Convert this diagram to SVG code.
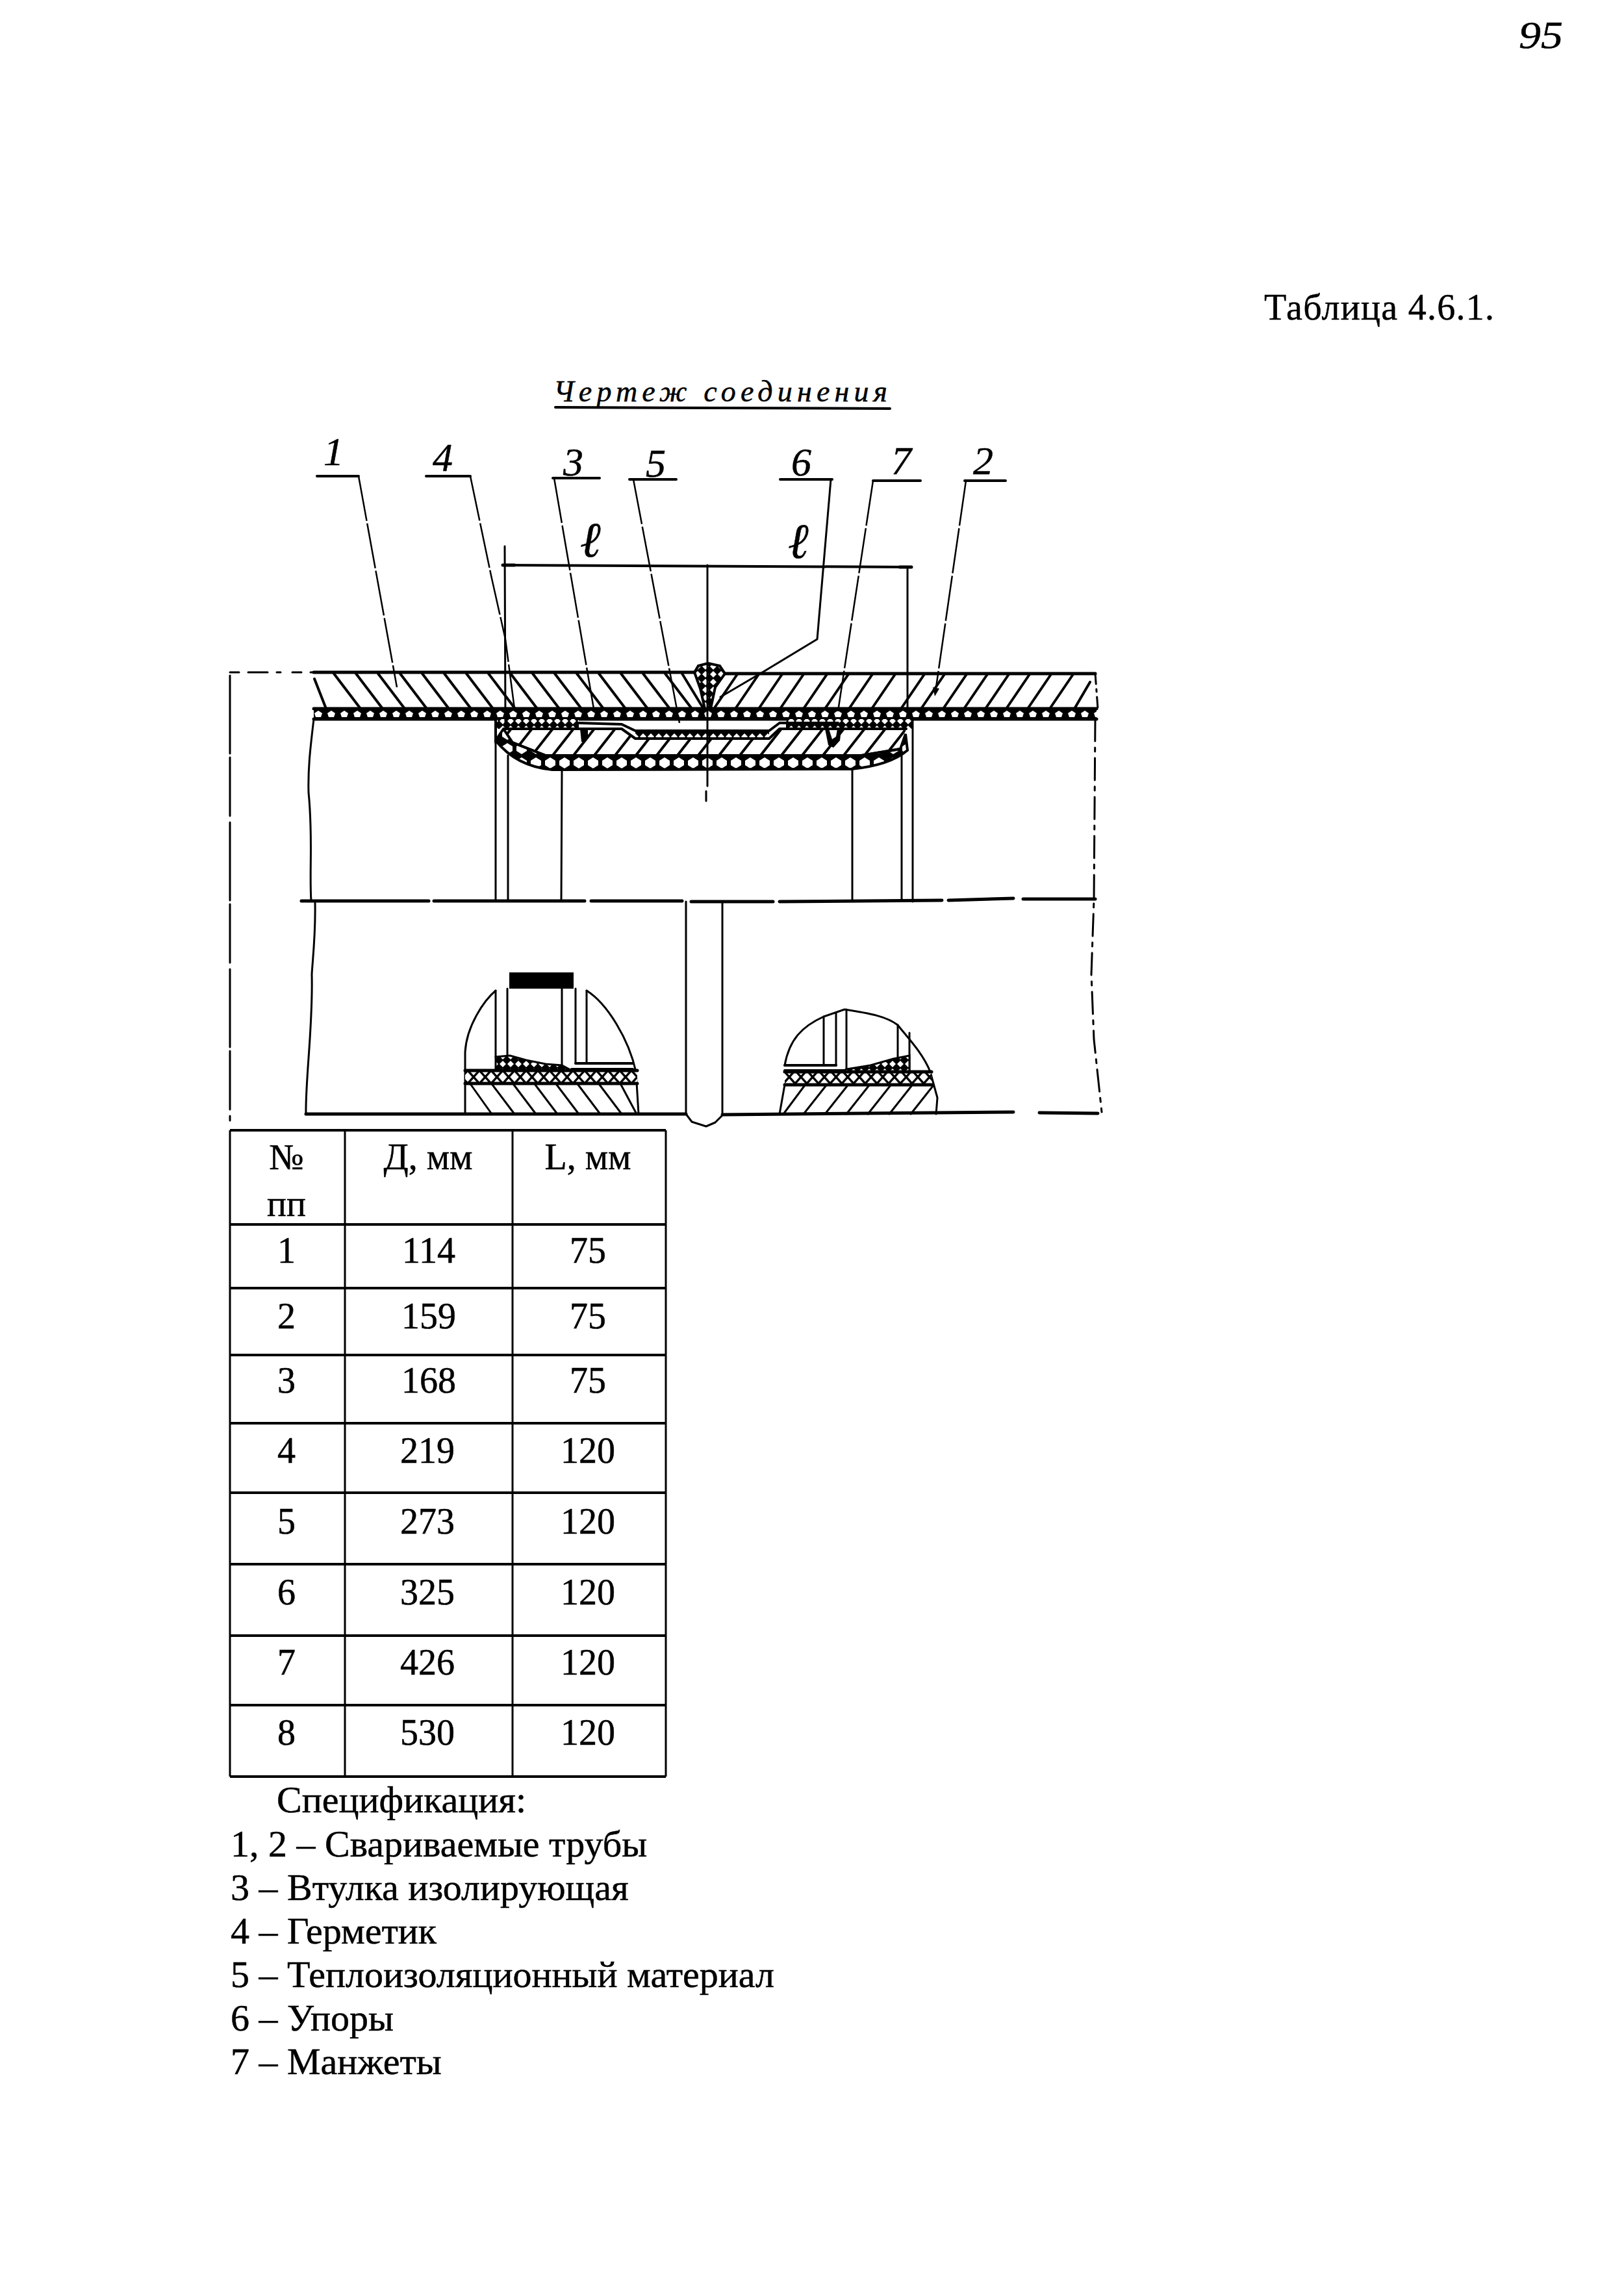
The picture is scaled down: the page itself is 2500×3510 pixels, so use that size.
<svg xmlns="http://www.w3.org/2000/svg" width="2500" height="3510" viewBox="0 0 2500 3510">
<style>
text{fill:#000;font-family:"Liberation Serif","Noto Sans CJK SC",serif;stroke:#000;stroke-width:.5}
.t{font-size:56px}
.s{font-size:58px}
.m{text-anchor:middle}
.hw{font-style:italic;font-family:"Liberation Serif",serif}
.n{font-size:62px}
.e{font-size:76px}
.l{fill:none;stroke:#000;stroke-width:3;stroke-linecap:round;stroke-linejoin:round}
.th{stroke-width:5}
.md{stroke-width:4}
.tb{fill:none;stroke:#000;stroke-width:4}
.tv{fill:none;stroke:#000;stroke-width:3}
.ld{fill:none;stroke:#000;stroke-width:2.5;stroke-dasharray:70 4}
</style>
<defs>
<pattern id="ins" patternUnits="userSpaceOnUse" width="20" height="16" patternTransform="translate(0,3)">
<rect width="20" height="16" fill="#000"/>
<path d="M10,3 L16,7 L14,13 L6,13 L4,7 Z" fill="#fff"/>
</pattern>
<pattern id="ins2" patternUnits="userSpaceOnUse" width="22" height="22" patternTransform="translate(0,19)">
<rect width="22" height="22" fill="#000"/>
<path d="M11,3 L19,8 L19,15 L11,20 L3,15 L3,8 Z" fill="#fff"/>
</pattern>
<pattern id="xx" patternUnits="userSpaceOnUse" width="18" height="20" patternTransform="translate(0,8)">
<rect width="18" height="20" fill="#fff"/>
<path d="M0,0 L18,20 M18,0 L0,20" stroke="#000" stroke-width="3.5"/>
</pattern>
<pattern id="wd" patternUnits="userSpaceOnUse" width="12" height="12">
<rect width="12" height="12" fill="#000"/>
<path d="M6,1 L11,6 L6,11 L1,6 Z" fill="#fff"/>
</pattern>
<clipPath id="slv"><path d="M775,1122 L957,1122 L978,1137 L1184,1137 L1200,1122 L1395,1122 L1386,1153 L1326,1163 L840,1163 L789,1143 Z"/></clipPath>
</defs>
<rect width="2500" height="3510" fill="#fff"/>

<g id="page-number"><text class="hw" x="2338" y="74" font-size="60" textLength="68" lengthAdjust="spacingAndGlyphs">95</text></g>
<g id="table-caption"><text class="t" x="1946" y="492" textLength="354" lengthAdjust="spacing">Таблица 4.6.1.</text></g>
<g id="drawing-title">
<text class="hw" x="852" y="618" font-size="46" textLength="514" lengthAdjust="spacing">Чертеж соединения</text>
<path class="l md" d="M855,627 L1370,629"/>
</g>

<g id="pipe">
<path class="l th" d="M483,1035 L1069,1035 M1115,1037 L1686,1037"/>
<path class="l" stroke-dasharray="14 14 30 14 6 18" d="M354,1035 L483,1035"/>
<path class="l md" d="M514,1037 l41,54 M548,1037 l41,54 M582,1037 l41,54 M616,1037 l41,54 M650,1037 l41,54 M684,1037 l41,54 M718,1037 l41,54 M752,1037 l41,54 M786,1037 l41,54 M820,1037 l41,54 M854,1037 l41,54 M888,1037 l41,54 M922,1037 l41,54 M956,1037 l41,54 M990,1037 l41,54 M1024,1037 l41,54 M1050,1037 l33,54 M484,1045 l18,46"/>
<path class="l md" d="M1135,1038 l-36,53 M1168,1038 l-36,53 M1204,1038 l-36,53 M1237,1038 l-36,53 M1273,1038 l-36,53 M1306,1038 l-36,53 M1343,1038 l-36,53 M1378,1038 l-36,53 M1423,1038 l-36,53 M1454,1038 l-36,53 M1488,1038 l-36,53 M1520,1038 l-36,53 M1553,1038 l-36,53 M1585,1038 l-36,53 M1618,1038 l-36,53 M1652,1038 l-36,53 M1678,1050 l-24,41"/>
<rect x="483" y="1091" width="1205" height="16" fill="url(#ins)"/>
<path class="l th" d="M483,1091 L1688,1091 M483,1107 L1688,1107"/>
<path class="l" stroke-dasharray="16 8 4 8" d="M1686,1037 L1690,1091"/>
</g>

<g id="sleeve">
<path fill="url(#ins2)" stroke="#000" stroke-width="4" d="M763,1140 Q795,1180 850,1185 L1311,1184 Q1370,1178 1397,1155 L1394,1130 L1386,1153 L1326,1163 L840,1163 L789,1143 L775,1122 Z"/>
<rect x="763" y="1107" width="128" height="15" fill="url(#wd)"/>
<rect x="1210" y="1107" width="195" height="15" fill="url(#wd)"/>
<rect x="978" y="1125" width="206" height="12" fill="url(#wd)"/>
<path class="l md" clip-path="url(#slv)" d="M790,1118 l-36,46 M822,1118 l-36,46 M854,1118 l-36,46 M886,1118 l-36,46 M918,1118 l-36,46 M950,1118 l-36,46 M982,1118 l-36,46 M1014,1118 l-36,46 M1046,1118 l-36,46 M1078,1118 l-36,46 M1110,1118 l-36,46 M1142,1118 l-36,46 M1174,1118 l-36,46 M1206,1118 l-36,46 M1238,1118 l-36,46 M1270,1118 l-36,46 M1302,1118 l-36,46 M1334,1118 l-36,46 M1366,1118 l-36,46 M1398,1118 l-36,46 M1430,1118 l-36,46"/>
<path class="l md" d="M763,1107 L763,1143 M775,1122 L957,1122 L978,1137 L1184,1137 L1200,1122 L1395,1122 M891,1113 L957,1115 L978,1125 L1184,1125 L1200,1113 L1290,1113 M789,1143 L840,1163 L1326,1163 L1386,1153"/>
<path d="M893,1122 h12 v14 l-4,6 h-6 z" fill="#000"/>
<path d="M1270,1122 h6 l5,16 l6,-4 l2,-12 h6 l-2,18 l-10,11 l-8,-4 z" fill="#000"/>
</g>

<g id="weld">
<path fill="url(#wd)" stroke="#000" stroke-width="4" d="M1069,1035 L1075,1025 L1090,1021 L1108,1025 L1116,1037 L1101,1058 L1094,1091 L1085,1091 L1078,1060 Z"/>
</g>

<g id="section-lines">
<path class="l" d="M354,1040 L354,1725" stroke-dasharray="120 6 90 10"/>
<path class="l" d="M483,1107 C478,1150 474,1180 475,1220 C482,1290 476,1340 479,1387"/>
<path class="l" d="M763,1143 L763,1385 M782,1163 L782,1385 M865,1185 L864,1385"/>
<path class="l" d="M1312,1185 L1312,1385 M1388,1160 L1388,1385 M1405,1107 L1405,1388"/>
<path class="l" stroke-dasharray="34 10 6 10" d="M1686,1107 L1684,1385 L1680,1500 L1684,1600 L1696,1712"/>
<path class="l th" d="M464,1387 L660,1387 M668,1387 L900,1387 M910,1387 L1050,1387 M1064,1388 L1190,1388 M1200,1388 L1450,1386 M1460,1386 L1560,1383 M1575,1384 L1686,1384"/>
<path class="l" d="M485,1390 C486,1440 481,1480 480,1500 C482,1580 470,1660 471,1715"/>
<path class="l" d="M1056,1388 L1056,1715 L1065,1727 L1087,1734 L1101,1728 L1112,1717 L1112,1388"/>
<path class="l th" d="M471,1715 L1056,1715 M1112,1716 L1560,1712 M1600,1713 L1690,1714"/>
</g>

<g id="cutaway-left">
<rect x="784" y="1497" width="99" height="25" fill="#000"/>
<path class="l" d="M716,1715 L716,1620 C718,1580 745,1540 763,1525 M903,1525 C935,1545 968,1600 979,1650 L983,1715"/>
<path class="l" d="M763,1525 L763,1627 M781,1522 L781,1625 M865,1522 L865,1640 M886,1522 L886,1637 M903,1525 L903,1637"/>
<path fill="url(#wd)" stroke="#000" stroke-width="3" d="M763,1627 L785,1625 L810,1632 L840,1638 L865,1640 L880,1648 L763,1648 Z"/>
<path class="l md" d="M886,1637 L974,1637 M880,1646 L974,1646"/>
<rect x="716" y="1648" width="265" height="20" fill="url(#xx)"/>
<path class="l th" d="M716,1648 L981,1648 M716,1668 L981,1668"/>
<path class="l" d="M725,1670 l32,45 M758,1670 l34,45 M791,1670 l34,45 M824,1670 l34,45 M857,1670 l34,45 M890,1670 l34,45 M923,1670 l34,45 M956,1670 l24,45"/>
</g>

<g id="cutaway-right">
<path class="l" d="M1208,1640 C1215,1600 1235,1580 1268,1565 L1300,1554 C1340,1560 1365,1565 1382,1578 C1395,1595 1420,1620 1432,1650 L1443,1690 L1441,1715 M1208,1670 L1200,1715"/>
<path class="l" d="M1268,1565 L1268,1640 M1287,1560 L1287,1640 M1303,1554 L1303,1645 M1382,1578 L1382,1628 M1400,1590 L1400,1650"/>
<path class="l md" d="M1208,1640 L1287,1640 M1208,1648 L1300,1648"/>
<path fill="url(#wd)" stroke="#000" stroke-width="3" d="M1303,1646 L1340,1640 L1375,1630 L1400,1625 L1400,1650 L1296,1650 Z"/>
<rect x="1208" y="1650" width="226" height="20" fill="url(#xx)"/>
<path class="l th" d="M1208,1650 L1434,1650 M1208,1670 L1434,1670"/>
<path class="l" d="M1238,1672 l-32,43 M1271,1672 l-34,43 M1304,1672 l-34,43 M1337,1672 l-34,43 M1370,1672 l-34,43 M1403,1672 l-34,43 M1436,1672 l-34,43"/>
</g>

<g id="connectors">
<path class="ld" d="M552,733 L611,1058"/>
<path class="ld" d="M724,733 L756,886 L778,984 L792,1091"/>
<path class="ld" d="M853,736 L914,1091"/>
<path class="ld" d="M975,738 L1046,1113"/>
<path class="l" d="M1279,738 L1258,984 L1177,1033 L1109,1073"/>
<path class="ld" d="M1344,740 L1290,1095"/>
<path class="ld" d="M1487,740 L1440,1065"/>
<path d="M1436,1058 L1446,1060 L1439,1072 Z" fill="#000"/>
<path class="l md" d="M488,733 L552,733 M656,733 L724,733 M851,736 L923,736 M969,738 L1041,738 M1201,738 L1281,738 M1344,740 L1417,740 M1485,740 L1548,740"/>
</g>

<g id="dimension">
<path class="l md" d="M774,870 L1403,873"/>
<path class="l th" d="M774,870 L792,870 M1385,873 L1403,873"/>
<path class="l" d="M777,841 L778,1113 M1397,873 L1397,1040 M1397,1040 L1397,1100"/>
<path class="l" d="M1089,870 L1089,1210 M1087,1218 L1087,1233"/>
<text class="hw e" x="893" y="857">ℓ</text>
<text class="hw e" x="1213" y="859">ℓ</text>
</g>

<g id="labels">
<text class="hw n" x="498" y="716">1</text>
<text class="hw n" x="666" y="725">4</text>
<text class="hw n" x="867" y="732">3</text>
<text class="hw n" x="994" y="734">5</text>
<text class="hw n" x="1218" y="732">6</text>
<text class="hw n" x="1372" y="730">7</text>
<text class="hw n" x="1498" y="730">2</text>
</g>

<g id="table">
<path class="tb" d="M354,1740 L1025,1740 M354,2735 L1025,2735"/>
<path class="tv" d="M354,1740 L354,2735 M531,1740 L531,2735 M789,1740 L789,2735 M1025,1740 L1025,2735"/>
<path class="tb" d="M354,1885 L1025,1885 M354,1983 L1025,1983 M354,2086 L1025,2086 M354,2191 L1025,2191 M354,2298 L1025,2298 M354,2408 L1025,2408 M354,2518 L1025,2518 M354,2625 L1025,2625"/>
<text class="t m" x="441" y="1800">№</text><text class="t m" x="441" y="1872">пп</text>
<text class="t m" x="659" y="1800">Д, мм</text><text class="t m" x="905" y="1800">L, мм</text>
<text class="t m" x="441" y="1944">1</text><text class="t m" x="660" y="1944">114</text><text class="t m" x="905" y="1944">75</text>
<text class="t m" x="441" y="2045">2</text><text class="t m" x="660" y="2045">159</text><text class="t m" x="905" y="2045">75</text>
<text class="t m" x="441" y="2144">3</text><text class="t m" x="660" y="2144">168</text><text class="t m" x="905" y="2144">75</text>
<text class="t m" x="441" y="2252">4</text><text class="t m" x="658" y="2252">219</text><text class="t m" x="905" y="2252">120</text>
<text class="t m" x="441" y="2361">5</text><text class="t m" x="658" y="2361">273</text><text class="t m" x="905" y="2361">120</text>
<text class="t m" x="441" y="2470">6</text><text class="t m" x="658" y="2470">325</text><text class="t m" x="905" y="2470">120</text>
<text class="t m" x="441" y="2578">7</text><text class="t m" x="658" y="2578">426</text><text class="t m" x="905" y="2578">120</text>
<text class="t m" x="441" y="2686">8</text><text class="t m" x="658" y="2686">530</text><text class="t m" x="905" y="2686">120</text>
</g>

<g id="specification">
<text class="s" x="426" y="2790">Спецификация:</text>
<text class="s" x="355" y="2858">1, 2 – Свариваемые трубы</text>
<text class="s" x="355" y="2925">3 – Втулка изолирующая</text>
<text class="s" x="355" y="2992">4 – Герметик</text>
<text class="s" x="355" y="3059">5 – Теплоизоляционный материал</text>
<text class="s" x="355" y="3126">6 – Упоры</text>
<text class="s" x="355" y="3193">7 – Манжеты</text>
</g>
</svg>
